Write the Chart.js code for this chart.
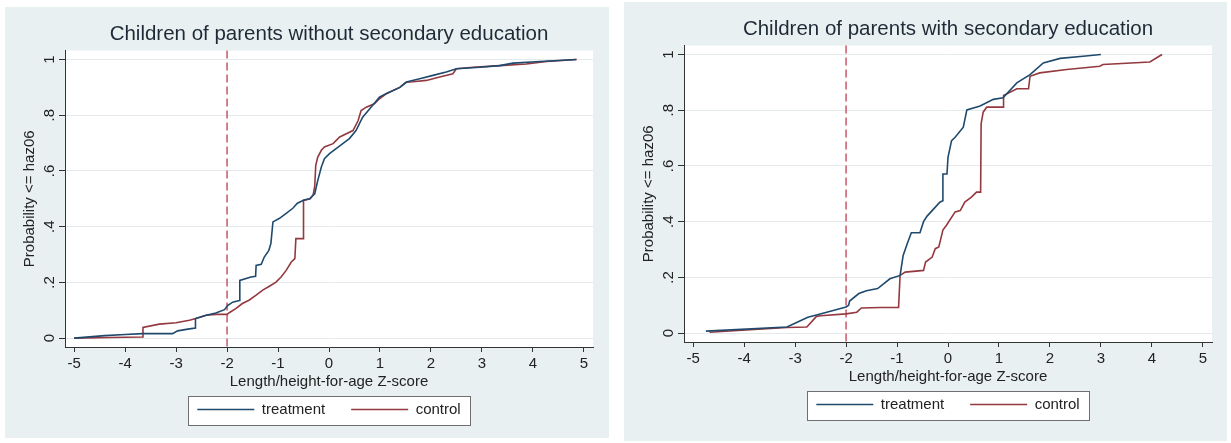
<!DOCTYPE html>
<html>
<head>
<meta charset="utf-8">
<script src="https://cdn.jsdelivr.net/npm/chart.js@4.4.1/dist/chart.umd.min.js"></script>
<style>
  html, body { margin: 0; padding: 0; background: #ffffff; }
  body { width: 1231px; height: 443px; position: relative; overflow: hidden; }
  .panel { position: absolute; background: #e9f0f2; }
  .panel canvas { position: absolute; left: 0; top: 0; }
</style>
</head>
<body>
<div class="panel" style="left:5px; top:7px; width:604px; height:431px;">
  <canvas id="chartNoSec" width="604" height="431"></canvas>
</div>
<div class="panel" style="left:624px; top:2px; width:603px; height:439px;">
  <canvas id="chartSec" width="604" height="431"></canvas>
</div>
<script>
// Axis ticks and labels
const zTicks = [-5, -4, -3, -2, -1, 0, 1, 2, 3, 4, 5];
const pTicks = [0, 0.2, 0.4, 0.6, 0.8, 1];
const pTickLabels = ['0', '.2', '.4', '.6', '.8', '1'];
const cutoffZ = -2;           // stunting threshold
const groupLabels = ['treatment', 'control'];

// Cumulative distribution of haz06 — parents without secondary education
const zNoSecTreat = [-5.0, -4.4, -4.0, -3.66, -3.07, -2.97, -2.74, -2.62, -2.62, -2.41, -2.22, -2.05, -1.99, -1.89, -1.76, -1.75, -1.53, -1.44, -1.43, -1.33, -1.27, -1.18, -1.14, -1.10, -0.97, -0.84, -0.71, -0.62, -0.49, -0.38, -0.28, -0.22, -0.15, -0.09, 0.01, 0.14, 0.27, 0.40, 0.53, 0.66, 0.80, 0.99, 1.12, 1.39, 1.52, 1.78, 2.04, 2.30, 2.50, 2.96, 3.35, 3.61, 4.14, 4.85];
const pNoSecTreat = [0.0, 0.009, 0.013, 0.016, 0.016, 0.026, 0.033, 0.036, 0.07, 0.082, 0.09, 0.102, 0.117, 0.129, 0.135, 0.207, 0.219, 0.222, 0.261, 0.265, 0.291, 0.315, 0.34, 0.417, 0.43, 0.448, 0.466, 0.484, 0.496, 0.5, 0.518, 0.566, 0.614, 0.644, 0.662, 0.68, 0.698, 0.716, 0.745, 0.793, 0.823, 0.865, 0.877, 0.9, 0.919, 0.931, 0.943, 0.955, 0.967, 0.972, 0.978, 0.987, 0.993, 1.0];
const zNoSecCtrl = [-5.0, -4.3, -3.66, -3.65, -3.33, -3.0, -2.74, -2.61, -2.41, -2.22, -2.0, -1.95, -1.83, -1.70, -1.57, -1.43, -1.30, -1.17, -1.04, -0.94, -0.84, -0.74, -0.67, -0.65, -0.51, -0.50, -0.37, -0.31, -0.28, -0.26, -0.22, -0.15, -0.09, 0.08, 0.21, 0.47, 0.57, 0.63, 0.73, 0.89, 0.99, 1.12, 1.39, 1.52, 1.65, 1.91, 2.17, 2.43, 2.50, 2.83, 3.35, 3.87, 4.27, 4.86];
const pNoSecCtrl = [0.0, 0.002, 0.004, 0.038, 0.05, 0.055, 0.064, 0.07, 0.082, 0.085, 0.085, 0.092, 0.106, 0.124, 0.136, 0.154, 0.172, 0.186, 0.201, 0.219, 0.243, 0.273, 0.285, 0.357, 0.357, 0.494, 0.5, 0.515, 0.545, 0.62, 0.65, 0.674, 0.686, 0.698, 0.722, 0.745, 0.78, 0.817, 0.829, 0.841, 0.859, 0.877, 0.9, 0.919, 0.92, 0.925, 0.937, 0.949, 0.967, 0.972, 0.978, 0.984, 0.993, 1.0];

// Cumulative distribution of haz06 — parents with secondary education
const zSecTreat = [-4.75, -3.16, -2.95, -2.75, -2.58, -2.0, -1.95, -1.93, -1.75, -1.6, -1.38, -1.14, -0.94, -0.88, -0.8, -0.72, -0.55, -0.48, -0.41, -0.28, -0.16, -0.1, -0.1, -0.02, 0.0, 0.07, 0.14, 0.30, 0.37, 0.63, 0.89, 1.08, 1.35, 1.61, 1.87, 2.20, 2.65, 3.0];
const pSecTreat = [0.007, 0.022, 0.04, 0.057, 0.065, 0.094, 0.1, 0.115, 0.142, 0.152, 0.16, 0.195, 0.207, 0.279, 0.321, 0.36, 0.36, 0.4, 0.42, 0.446, 0.47, 0.475, 0.571, 0.571, 0.631, 0.691, 0.703, 0.739, 0.801, 0.815, 0.839, 0.845, 0.898, 0.928, 0.970, 0.986, 0.994, 1.0];
const zSecCtrl = [-4.68, -3.16, -2.77, -2.58, -2.5, -2.0, -1.79, -1.7, -1.33, -0.97, -0.94, -0.84, -0.48, -0.44, -0.31, -0.25, -0.18, -0.1, -0.03, 0.14, 0.24, 0.33, 0.46, 0.56, 0.64, 0.65, 0.69, 0.76, 1.08, 1.09, 1.35, 1.58, 1.61, 1.80, 2.33, 2.98, 3.04, 3.96, 4.2];
const pSecCtrl = [0.003, 0.02, 0.022, 0.06, 0.062, 0.069, 0.075, 0.09, 0.092, 0.092, 0.207, 0.219, 0.225, 0.255, 0.273, 0.303, 0.309, 0.37, 0.387, 0.435, 0.44, 0.47, 0.488, 0.506, 0.506, 0.751, 0.793, 0.811, 0.811, 0.853, 0.877, 0.877, 0.922, 0.934, 0.946, 0.958, 0.964, 0.973, 1.0];

const COLORS = { treatment: '#1f4a6e', control: '#93393f', cutoff: '#c9576b', axis: '#333333', grid: '#e4eaec', text: '#222222', title: '#1e2a36' };
const FONT_FAMILY = "'Liberation Sans', Arial, Helvetica, sans-serif";

Chart.defaults.font.family = FONT_FAMILY;
Chart.defaults.color = COLORS.text;

function toPoints(zs, ps) {
  const n = Math.min(zs.length, ps.length);
  const pts = [];
  for (let i = 0; i < n; i++) pts.push({ x: zs[i], y: ps[i] });
  return pts;
}

// White plot region plus white legend frame
const plotRegion = {
  id: 'plotRegion',
  beforeDraw(chart) {
    const { ctx, chartArea: a } = chart;
    ctx.save();
    ctx.fillStyle = '#ffffff';
    ctx.fillRect(a.left, a.top, a.right - a.left, a.bottom - a.top);
    const f = legendFrame(chart);
    if (f) ctx.fillRect(f.x, f.y, f.w, f.h);
    ctx.restore();
  },
  afterDraw(chart) {
    const f = legendFrame(chart);
    if (!f) return;
    const { ctx } = chart;
    ctx.save();
    ctx.strokeStyle = '#6f6f6f';
    ctx.lineWidth = 1;
    ctx.strokeRect(Math.round(f.x) + 0.5, Math.round(f.y) + 0.5, Math.round(f.w), Math.round(f.h));
    ctx.restore();
  }
};

function legendFrame(chart) {
  const lg = chart.legend;
  if (!lg || !lg.legendHitBoxes || !lg.legendHitBoxes.length) return null;
  const hb = lg.legendHitBoxes;
  const first = hb[0], last = hb[hb.length - 1];
  const cy = first.top + first.height / 2 + 1;
  const x = first.left - 9;
  const w = last.left + last.width + 10 - x;
  return { x, y: cy - 14.5, w, h: 29 };
}

// Vertical dashed reference line at the stunting cut-off
const cutoffLine = {
  id: 'cutoffLine',
  beforeDatasetsDraw(chart, args, opts) {
    const { ctx, chartArea: a, scales } = chart;
    const x = scales.x.getPixelForValue(opts.value);
    ctx.save();
    ctx.strokeStyle = opts.color;
    ctx.lineWidth = 1.5;
    ctx.setLineDash([8, 4]);
    ctx.beginPath();
    ctx.moveTo(x, a.top);
    ctx.lineTo(x, a.bottom);
    ctx.stroke();
    ctx.restore();
  }
};

function makeChart(canvasId, titleText, tz, tp, cz, cp) {
  return new Chart(document.getElementById(canvasId), {
    type: 'scatter',
    data: {
      datasets: [
        { label: groupLabels[0], data: toPoints(tz, tp), showLine: true, borderColor: COLORS.treatment, backgroundColor: COLORS.treatment, borderWidth: 1.6, pointRadius: 0, tension: 0 },
        { label: groupLabels[1], data: toPoints(cz, cp), showLine: true, borderColor: COLORS.control, backgroundColor: COLORS.control, borderWidth: 1.6, pointRadius: 0, tension: 0 }
      ]
    },
    options: {
      responsive: false,
      animation: false,
      devicePixelRatio: 1,
      layout: { padding: { top: 0, left: 0, right: 16, bottom: 11 } },
      events: [],
      scales: {
        x: {
          type: 'linear',
          min: -5.18, max: 5.18,
          afterBuildTicks: s => { s.ticks = zTicks.map(v => ({ value: v })); },
          afterFit: s => { s.height = 29; },
          ticks: { autoSkip: false, maxRotation: 0, padding: 3, color: COLORS.text, font: { size: 15 }, callback: v => String(v) },
          grid: { drawOnChartArea: false, drawTicks: true, tickLength: 5, tickColor: COLORS.axis },
          border: { display: true, color: COLORS.axis, width: 1 },
          title: { display: true, text: 'Length/height-for-age Z-score', color: COLORS.text, font: { size: 15 }, padding: { top: 0, bottom: -14.5 } }
        },
        y: {
          type: 'linear',
          min: -0.032, max: 1.032,
          afterBuildTicks: s => { s.ticks = pTicks.map(v => ({ value: v })); },
          afterFit: s => { s.width = 60; },
          ticks: { autoSkip: false, minRotation: 90, maxRotation: 90, crossAlign: 'center', padding: 3, color: COLORS.text, font: { size: 15 },
                   callback: (v, i) => pTickLabels[i] },
          grid: { color: COLORS.grid, lineWidth: 1, drawTicks: true, tickLength: 6, tickColor: COLORS.axis },
          border: { display: true, color: COLORS.axis, width: 1 },
          title: { display: true, text: 'Probability <= haz06', color: COLORS.text, font: { size: 15 }, padding: { top: 16, bottom: 0 } }
        }
      },
      plugins: {
        title: { display: true, text: titleText, fullSize: false, color: COLORS.title, font: { size: 20.5, weight: 'normal' }, padding: { top: 15.2, bottom: 3.8 } },
        legend: {
          display: true, position: 'bottom', fullSize: false,
          labels: { usePointStyle: true, pointStyle: 'line', pointStyleWidth: 57, padding: 26, color: COLORS.text, font: { size: 15 } }
        },
        tooltip: { enabled: false },
        cutoffLine: { value: cutoffZ, color: COLORS.cutoff }
      }
    },
    plugins: [plotRegion, cutoffLine]
  });
}

makeChart('chartNoSec', 'Children of parents without secondary education', zNoSecTreat, pNoSecTreat, zNoSecCtrl, pNoSecCtrl);
makeChart('chartSec', 'Children of parents with secondary education', zSecTreat, pSecTreat, zSecCtrl, pSecCtrl);
</script>
</body>
</html>
